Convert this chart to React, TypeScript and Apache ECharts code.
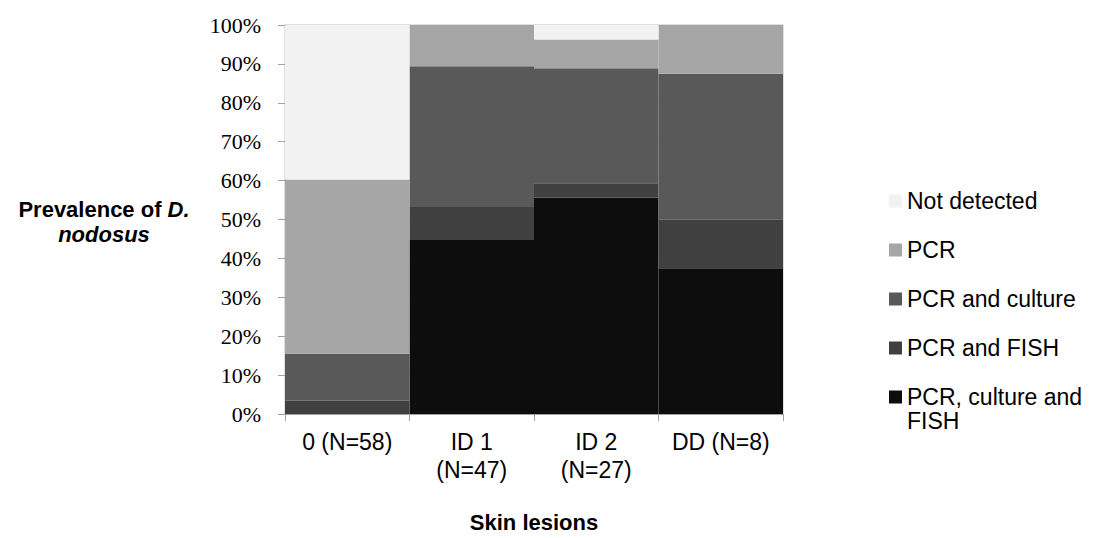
import React, { useEffect, useRef } from "react";
import * as echarts from "echarts";

const categories = ["0 (N=58)", "ID 1\n(N=47)", "ID 2\n(N=27)", "DD (N=8)"];
const yTicks = [0, 10, 20, 30, 40, 50, 60, 70, 80, 90, 100];

const seriesNames = [
  "PCR, culture and FISH",
  "PCR and FISH",
  "PCR and culture",
  "PCR",
  "Not detected",
];
const pcrCultureFish = [0, 44.7, 55.6, 37.5];
const pcrFish = [3.4, 8.5, 3.7, 12.5];
const pcrCulture = [12.1, 36.2, 29.6, 37.5];
const pcrOnly = [44.8, 10.6, 7.4, 12.5];
const notDetected = [39.7, 0, 3.7, 0];
const seriesValues = [pcrCultureFish, pcrFish, pcrCulture, pcrOnly, notDetected];
const seriesColors = ["#0d0d0d", "#404040", "#595959", "#a6a6a6", "#f2f2f2"];

export default function App() {
  const ref = useRef<HTMLDivElement>(null);
  useEffect(() => {
    if (!ref.current) return;
    const chart = echarts.init(ref.current, null, { renderer: "svg" });
    const sans = "'Liberation Sans', Arial, sans-serif";
    chart.setOption({
      animation: false,
      backgroundColor: "#ffffff",
      grid: {
        left: 285,
        right: 310,
        top: 25,
        bottom: 118,
        show: true,
        borderColor: "#c0c0c0",
        borderWidth: 1,
        backgroundColor: "transparent",
      },
      legend: [
        {
          orient: "vertical",
          left: 889,
          top: 188,
          padding: 0,
          itemWidth: 13,
          itemHeight: 13,
          itemGap: 23,
          icon: "rect",
          selectedMode: false,
          data: ["Not detected", "PCR", "PCR and culture", "PCR and FISH"],
          textStyle: { fontFamily: sans, fontSize: 23, color: "#000", lineHeight: 26 },
        },
        {
          orient: "vertical",
          left: 889,
          top: 361,
          padding: 0,
          itemWidth: 13,
          itemHeight: 13,
          icon: "rect",
          selectedMode: false,
          data: ["PCR, culture and FISH"],
          formatter: () => "\nPCR, culture and\nFISH",
          textStyle: {
            fontFamily: sans,
            fontSize: 23,
            color: "#000",
            lineHeight: 24,
          },
        },
      ],
      xAxis: {
        type: "category",
        data: categories,
        name: "Skin lesions",
        nameLocation: "middle",
        nameGap: 108,
        nameTextStyle: {
          fontFamily: sans,
          fontSize: 22,
          fontWeight: "bold",
          color: "#000",
          verticalAlign: "middle",
        },
        axisLine: { show: true, lineStyle: { color: "#a0a0a0", width: 1 } },
        axisTick: { show: true, length: 7, lineStyle: { color: "#a0a0a0" } },
        axisLabel: {
          fontFamily: sans,
          fontSize: 23,
          color: "#000",
          lineHeight: 28,
          margin: 14,
          interval: 0,
        },
      },
      yAxis: {
        type: "value",
        min: yTicks[0],
        max: yTicks[yTicks.length - 1],
        interval: 10,
        name: "Prevalence of {i|D.}\n{i|nodosus}",
        nameLocation: "middle",
        nameRotate: 0,
        nameGap: 181,
        nameTextStyle: {
          fontFamily: sans,
          fontSize: 22,
          fontWeight: "bold",
          color: "#000",
          align: "center",
          verticalAlign: "middle",
          lineHeight: 25,
          padding: [4, 0, 0, 0],
          rich: {
            i: {
              fontFamily: sans,
              fontSize: 22,
              fontWeight: "bold",
              fontStyle: "italic",
              color: "#000",
              lineHeight: 25,
            },
          },
        },
        axisLine: { show: true, lineStyle: { color: "#a0a0a0", width: 1 } },
        axisTick: { show: true, length: 7, lineStyle: { color: "#a0a0a0" } },
        axisLabel: {
          fontFamily: "'Liberation Serif', 'Times New Roman', serif",
          fontSize: 22,
          color: "#000",
          margin: 24,
          formatter: "{value}%",
        },
        splitLine: { show: true, lineStyle: { color: "#d0d0d0", width: 1 } },
      },
      series: seriesNames.map((name, i) => ({
        name,
        type: "bar",
        stack: "total",
        barCategoryGap: "0%",
        data: seriesValues[i],
        itemStyle: { color: seriesColors[i] },
        emphasis: { disabled: true },
      })),
    });
    return () => chart.dispose();
  }, []);
  return (
    <div
      ref={ref}
      style={{ position: "fixed", left: 0, top: 0, width: 1093, height: 538 }}
    />
  );
}
